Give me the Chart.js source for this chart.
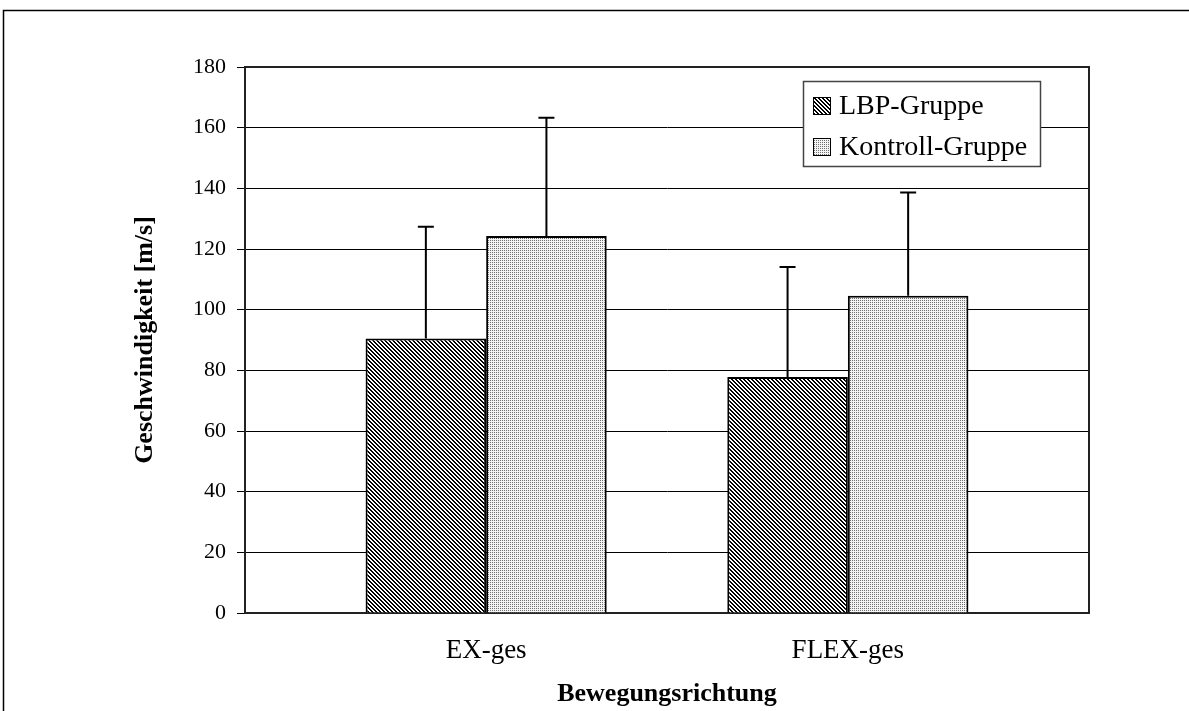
<!DOCTYPE html>
<html>
<head>
<meta charset="utf-8">
<script src="https://cdn.jsdelivr.net/npm/chart.js@4.4.0/dist/chart.umd.min.js"></script>
<style>
body { margin: 0; background: #fff; }
</style>
</head>
<body>
<canvas id="myChart" width="1189" height="711"></canvas>
<script>
let categories = ["EX-ges", "FLEX-ges"];
let seriesNames = ["LBP-Gruppe", "Kontroll-Gruppe"];
let lbpValues = [90.5, 77.8];
let lbpErrors = [36.8, 36.3];
let kontrollValues = [124.3, 104.6];
let kontrollErrors = [39.0, 34.0];
let yTickValues = [0, 20, 40, 60, 80, 100, 120, 140, 160, 180];

let fontName = "'Liberation Serif', 'Times New Roman', serif";
let ctxMain = document.getElementById("myChart").getContext("2d");

// hatch pattern for LBP bars (backslash lines)
function makeHatch() {
    let c = document.createElement("canvas");
    c.width = 4; c.height = 4;
    let g = c.getContext("2d");
    g.fillStyle = "#fff";
    g.fillRect(0, 0, 4, 4);
    g.fillStyle = "#000";
    for (let y = 0; y < 4; y++) {
        for (let x = 0; x < 4; x++) {
            if ((((x - y) % 4) + 4) % 4 < 2) g.fillRect(x, y, 1, 1);
        }
    }
    return ctxMain.createPattern(c, "repeat");
}

// fine dotted pattern for Kontroll bars
function makeDots() {
    let c = document.createElement("canvas");
    c.width = 2; c.height = 2;
    let g = c.getContext("2d");
    g.fillStyle = "#f4f4f4";
    g.fillRect(0, 0, 2, 2);
    g.fillStyle = "#707070";
    g.fillRect(0, 0, 1, 1);
    return ctxMain.createPattern(c, "repeat");
}

let hatchFill = makeHatch();
let dotFill = makeDots();

// outer frame and plot frame
let frames = {
    id: "frames",
    beforeDraw(chart) {
        let ctx = chart.ctx;
        ctx.save();
        ctx.strokeStyle = "#000";
        ctx.lineWidth = 1.5;
        ctx.strokeRect(3.5, 10.5, 1220, 760);
        ctx.restore();
    },
    beforeDatasetsDraw(chart) {
        let a = chart.chartArea;
        let ctx = chart.ctx;
        ctx.save();
        ctx.strokeStyle = "#222";
        ctx.lineWidth = 2;
        ctx.strokeRect(a.left, a.top, a.right - a.left, a.bottom - a.top);
        ctx.restore();
    }
};

// upper error bars
let errorBars = {
    id: "errorBars",
    afterDatasetsDraw(chart) {
        let ctx = chart.ctx;
        let yScale = chart.scales.y;
        ctx.save();
        ctx.strokeStyle = "#000";
        ctx.lineWidth = 2;
        chart.data.datasets.forEach(function (ds, di) {
            let meta = chart.getDatasetMeta(di);
            meta.data.forEach(function (bar, i) {
                let topY = yScale.getPixelForValue(ds.data[i].y + ds.errors[i]);
                ctx.beginPath();
                ctx.moveTo(bar.x, bar.y);
                ctx.lineTo(bar.x, topY);
                ctx.moveTo(bar.x - 8, topY);
                ctx.lineTo(bar.x + 8, topY);
                ctx.stroke();
            });
        });
        ctx.restore();
    }
};

// legend box inside plot
let boxLegend = {
    id: "boxLegend",
    afterDraw(chart) {
        let ctx = chart.ctx;
        ctx.save();
        ctx.fillStyle = "#fff";
        ctx.fillRect(803, 81, 237, 85);
        ctx.strokeStyle = "#444";
        ctx.lineWidth = 1.5;
        ctx.strokeRect(803.5, 81.5, 237, 85);
        ctx.font = "28px " + fontName;
        ctx.textBaseline = "middle";
        chart.data.datasets.forEach(function (ds, i) {
            let cy = 106 + i * 41;
            ctx.fillStyle = ds.backgroundColor;
            ctx.fillRect(813, cy - 9, 18, 18);
            ctx.strokeStyle = "#000";
            ctx.lineWidth = 1;
            ctx.strokeRect(813.5, cy - 8.5, 17, 17);
            ctx.fillStyle = "#000";
            ctx.fillText(ds.label, 839, cy + 1);
        });
        ctx.restore();
    }
};

let myChart = new Chart(ctxMain, {
    type: "bar",
    data: {
        datasets: [{
            label: seriesNames[0],
            data: categories.map(function (c, i) { return { x: i + 1, y: lbpValues[i] }; }),
            errors: lbpErrors,
            backgroundColor: hatchFill,
            borderColor: "#000",
            borderWidth: 2,
            barPercentage: 1,
            categoryPercentage: 2 / 3
        }, {
            label: seriesNames[1],
            data: categories.map(function (c, i) { return { x: i + 1, y: kontrollValues[i] }; }),
            errors: kontrollErrors,
            backgroundColor: dotFill,
            borderColor: "#000",
            borderWidth: 2,
            barPercentage: 1,
            categoryPercentage: 2 / 3
        }]
    },
    options: {
        responsive: false,
        animation: false,
        layout: { padding: { left: 128, top: 67, right: 100, bottom: 1 } },
        plugins: {
            legend: { display: false },
            tooltip: { enabled: false }
        },
        scales: {
            x: {
                type: "linear",
                offset: false,
                min: 1 / 3,
                max: 8 / 3,
                afterBuildTicks: function (scale) {
                    scale.ticks = categories.map(function (c, i) { return { value: i + 1 }; });
                },
                afterFit: function (scale) { scale.height = 97; },
                grid: { display: false },
                border: { color: "#000", width: 2 },
                ticks: {
                    padding: 14,
                    color: "#000",
                    font: { family: fontName, size: 27 },
                    callback: function (v) { return categories[Math.round(v) - 1]; }
                },
                title: {
                    display: true,
                    text: "Bewegungsrichtung",
                    color: "#000",
                    font: { family: fontName, size: 26, weight: "bold" },
                    padding: { top: 0, bottom: 0 }
                }
            },
            y: {
                min: 0,
                max: 180,
                afterBuildTicks: function (scale) {
                    scale.ticks = yTickValues.map(function (v) { return { value: v }; });
                },
                afterFit: function (scale) { scale.width = 117; },
                grid: { color: "#000", lineWidth: 1, tickLength: 8, tickColor: "#000" },
                border: { color: "#000", width: 2 },
                ticks: {
                    padding: 11,
                    color: "#000",
                    font: { family: fontName, size: 22 }
                },
                title: {
                    display: true,
                    text: "Geschwindigkeit [m/s]",
                    color: "#000",
                    font: { family: fontName, size: 26, weight: "bold" },
                    padding: { top: 2, bottom: 4 }
                }
            }
        }
    },
    plugins: [frames, errorBars, boxLegend]
});
</script>
</body>
</html>
